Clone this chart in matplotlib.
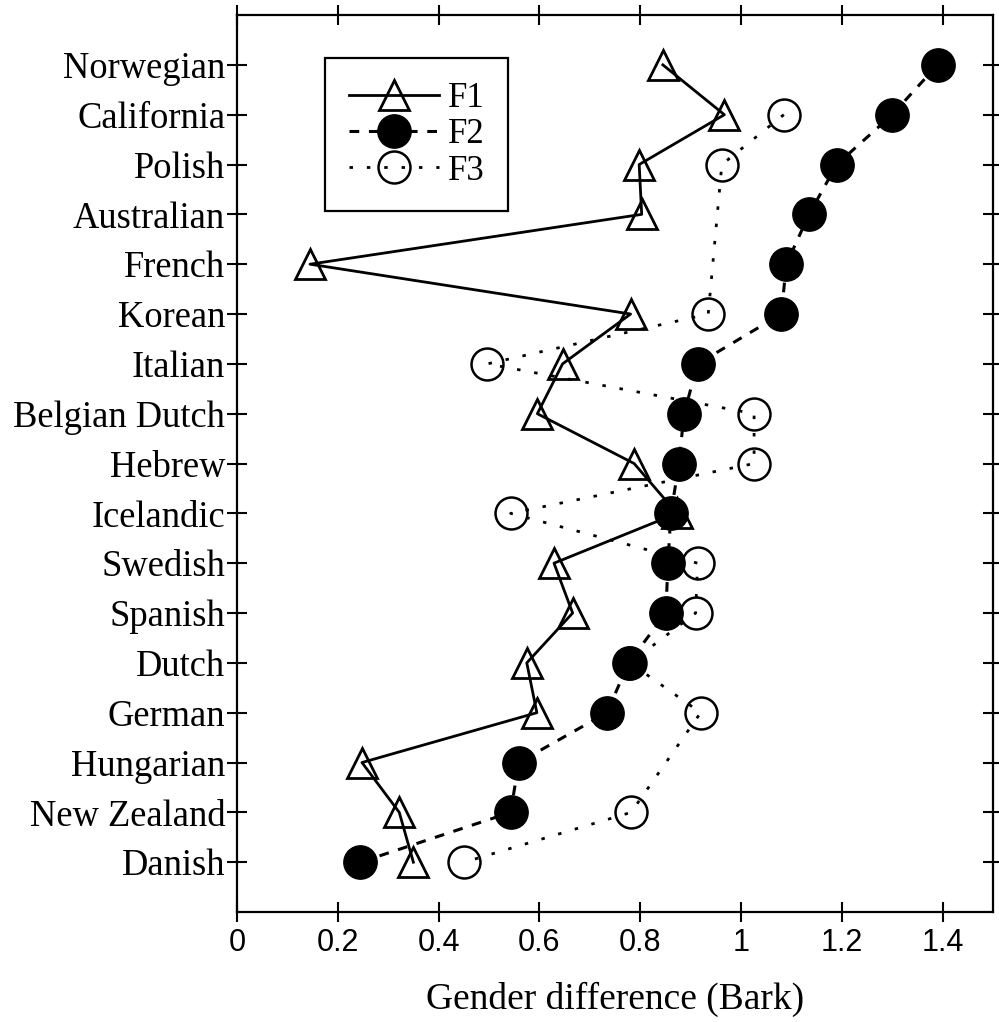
import numpy as np
import matplotlib
matplotlib.use("Agg")
import matplotlib.pyplot as plt

# rows listed top to bottom, as in the figure
languages = ["Norwegian", "California", "Polish", "Australian", "French", "Korean",
             "Italian", "Belgian Dutch", "Hebrew", "Icelandic", "Swedish", "Spanish",
             "Dutch", "German", "Hungarian", "New Zealand", "Danish"]
f1 = [0.845, 0.967, 0.798, 0.803, 0.145, 0.781, 0.646, 0.596, 0.788, 0.873,
      0.629, 0.666, 0.575, 0.595, 0.248, 0.322, 0.350]
f2 = [1.390, 1.300, 1.190, 1.135, 1.090, 1.080, 0.914, 0.887, 0.877, 0.861,
      0.855, 0.851, 0.777, 0.734, 0.559, 0.543, 0.245]
f3 = [np.nan, 1.085, 0.962, np.nan, np.nan, 0.935, 0.497, 1.026, 1.026, 0.543,
      0.914, 0.910, 0.780, 0.920, np.nan, 0.782, 0.451]

plt.rcParams['lines.scale_dashes'] = False
serif = ['Liberation Serif', 'DejaVu Serif']
sans = ['Liberation Sans', 'DejaVu Sans']

ypos = np.arange(len(languages))[::-1] + 1
f1 = np.array(f1)
f2 = np.array(f2)
f3 = np.array(f3)
ok3 = ~np.isnan(f3)

fig = plt.figure(figsize=(9.99, 10.22), dpi=100)
ax = fig.add_axes([0.2372, 0.1076, 0.7568, 0.8777])

h1, = ax.plot(f1, ypos, '-', color='black', lw=2, marker='^', ms=21,
              mfc='none', mec='black', mew=2, label='F1', zorder=2)
h3, = ax.plot(f3[ok3], ypos[ok3], color='black', lw=2, ls=(0, (2.5, 10)),
              marker='o', ms=23, mfc='none', mec='black', mew=1.8,
              label='F3', zorder=3)
h2, = ax.plot(f2, ypos, color='black', lw=2.2, ls=(0, (7, 7)),
              marker='o', ms=24, mfc='black', mec='black', mew=1,
              label='F2', zorder=4)

ax.set_xlim(0, 1.5)
ax.set_ylim(0, 18)
ax.set_xticks(np.arange(0, 1.41, 0.2))
ax.set_xticklabels(['0', '0.2', '0.4', '0.6', '0.8', '1', '1.2', '1.4'],
                   family=sans, fontsize=22)
ax.set_yticks(ypos)
ax.set_yticklabels(languages, family=serif, fontsize=26.3)
ax.tick_params(direction='inout', length=15, width=1.5, top=True, right=True,
               colors='black')
ax.tick_params(axis='y', pad=1)
ax.tick_params(axis='x', pad=4)
for s in ax.spines.values():
    s.set_linewidth(1.6)

ax.set_xlabel('Gender difference (Bark)', family=serif, fontsize=27, labelpad=17)

leg = ax.legend(handles=[h1, h2, h3], loc='upper left',
                bbox_to_anchor=(0.117, 0.952), borderaxespad=0,
                prop={'family': serif, 'size': 25}, handlelength=2.6,
                handletextpad=0.25, labelspacing=0.1, borderpad=0.68,
                fancybox=False, framealpha=1, edgecolor='black')
leg.get_frame().set_linewidth(1.6)

fig.savefig('out.png', dpi=100)
